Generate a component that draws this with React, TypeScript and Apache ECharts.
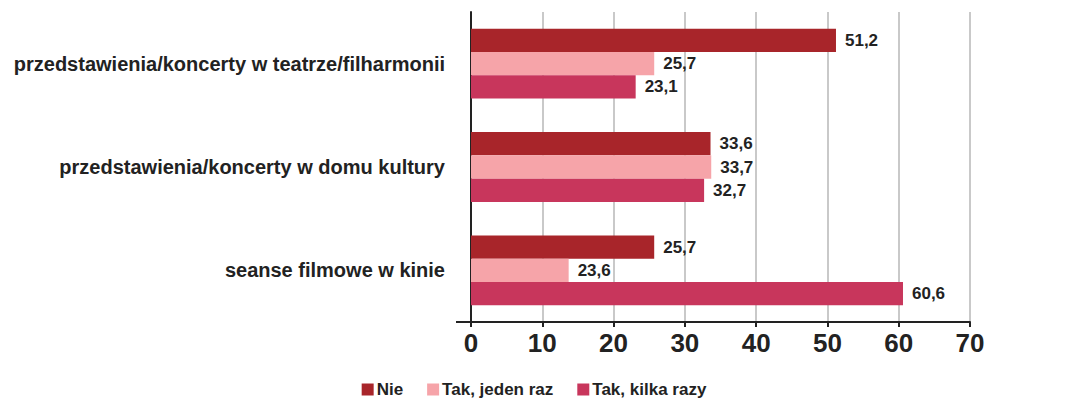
import React, { useEffect, useRef } from "react";
import * as echarts from "echarts";

const categories = [
  "przedstawienia/koncerty w teatrze/filharmonii",
  "przedstawienia/koncerty w domu kultury",
  "seanse filmowe w kinie",
];
const seriesNames = ["Nie", "Tak, jeden raz", "Tak, kilka razy"];
const nie = [51.2, 33.6, 25.7];
const takJedenRaz = [25.7, 33.7, 13.7];
const takKilkaRazy = [23.1, 32.7, 60.6];
// value labels as printed in the source (the third pink bar is labelled 23,6)
const nieLabels = ["51,2", "33,6", "25,7"];
const takJedenRazLabels = ["25,7", "33,7", "23,6"];
const takKilkaRazyLabels = ["23,1", "32,7", "60,6"];
const xTicks = [0, 10, 20, 30, 40, 50, 60, 70];
const colors = ["#a8252a", "#f6a4a9", "#c8365c"];

export default function App() {
  const ref = useRef<HTMLDivElement>(null);
  useEffect(() => {
    if (!ref.current) return;
    const chart = echarts.init(ref.current, null, { renderer: "svg" });
    const valueSets = [nie, takJedenRaz, takKilkaRazy];
    const labelSets = [nieLabels, takJedenRazLabels, takKilkaRazyLabels];
    chart.setOption({
      animation: false,
      textStyle: { fontFamily: "Liberation Sans, Arial, sans-serif" },
      legend: {
        top: 376,
        left: "center",
        icon: "rect",
        itemWidth: 12,
        itemHeight: 12,
        itemGap: 24,
        data: seriesNames,
        textStyle: {
          fontSize: 17,
          fontWeight: "bold",
          color: "#222",
          padding: [0, 0, 0, -2],
        },
      },
      grid: { left: 471, right: 98, top: 12, bottom: 79, containLabel: false },
      xAxis: {
        type: "value",
        min: xTicks[0],
        max: xTicks[xTicks.length - 1],
        interval: 10,
        axisLine: { show: true, lineStyle: { color: "#222", width: 2 } },
        axisTick: { show: true, length: 5, lineStyle: { color: "#222", width: 2 } },
        splitLine: { show: true, lineStyle: { color: "#c9c9c9", width: 2 } },
        axisLabel: {
          fontFamily: "Liberation Sans, Arial, sans-serif",
          fontSize: 26,
          fontWeight: "bold",
          color: "#222",
          margin: 8,
        },
      },
      yAxis: {
        type: "category",
        data: categories,
        inverse: true,
        axisLine: { show: true, lineStyle: { color: "#222", width: 2 } },
        axisTick: { show: false },
        axisLabel: {
          fontSize: 20,
          fontWeight: "bold",
          color: "#222",
          margin: 26,
        },
      },
      series: seriesNames.map((name, i) => ({
        name,
        type: "bar",
        data: valueSets[i],
        barWidth: 23.3,
        barGap: "0%",
        itemStyle: { color: colors[i] },
        label: {
          show: true,
          position: "right",
          distance: 9,
          fontSize: 17,
          fontWeight: "bold",
          color: "#222",
          formatter: (p: any) => labelSets[i][p.dataIndex],
        },
      })),
      graphic: [
        {
          type: "line",
          shape: { x1: 456, y1: 322, x2: 471, y2: 322 },
          style: { stroke: "#222", lineWidth: 2 },
        },
      ],
    });
    return () => chart.dispose();
  }, []);
  return (
    <div
      ref={ref}
      style={{ width: 1068, height: 401, margin: "-8px 0 0 -8px" }}
    />
  );
}
